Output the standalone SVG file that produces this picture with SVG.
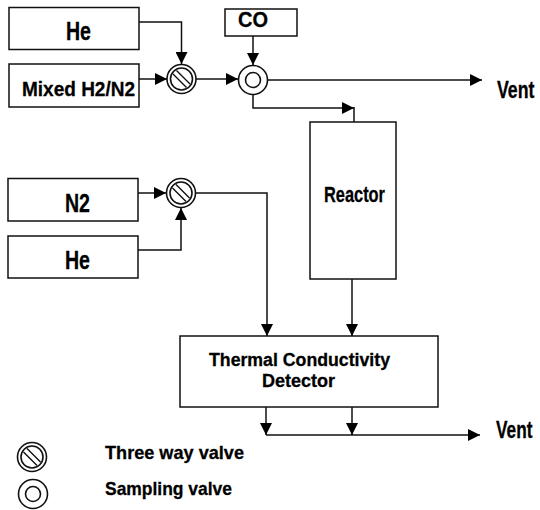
<svg xmlns="http://www.w3.org/2000/svg" width="540" height="510" viewBox="0 0 540 510">
<style>
rect{fill:#fff;stroke:#111;stroke-width:1.500}
.c{fill:none;stroke:#111;stroke-width:1.500}
.v{fill:#fff;stroke:#111;stroke-width:1.600}
.s{fill:none;stroke:#111;stroke-width:1.400}
.t{font-family:"Liberation Sans",Arial,sans-serif;font-weight:700;fill:#000;stroke:#000;stroke-width:.3}
</style>
<defs>
<marker id="a" markerUnits="userSpaceOnUse" markerWidth="13" markerHeight="12" refX="12" refY="6" orient="auto"><path d="M0 0L12 6L0 12z" fill="#000"/></marker>
<g id="tw"><circle class="v" r="14.500"/><circle class="v" r="11"/><path class="s" d="M-8.500 -5L5 8.500M-5 -8.500L8.500 5"/></g>
<g id="sv"><circle class="v" r="14.500"/><circle class="v" r="7.500"/></g>
</defs>
<g id="connectors">
<path class="c" marker-end="url(#a)" d="M139 22H181.500V64"/>
<path class="c" marker-end="url(#a)" d="M139 79H167"/>
<path class="c" marker-end="url(#a)" d="M196 79H238"/>
<path class="c" marker-end="url(#a)" d="M253 36V65"/>
<path class="c" marker-end="url(#a)" d="M268 80H482"/>
<path class="c" marker-end="url(#a)" d="M253 94V108H354"/>
<path class="c" d="M354 107V122"/>
<path class="c" marker-end="url(#a)" d="M138 193H166"/>
<path class="c" marker-end="url(#a)" d="M138 250H181V208"/>
<path class="c" marker-end="url(#a)" d="M195 193H267V336"/>
<path class="c" marker-end="url(#a)" d="M352 279V336"/>
<path class="c" marker-end="url(#a)" d="M266 435H480"/>
<path class="c" marker-end="url(#a)" d="M266 407V435"/>
<path class="c" marker-end="url(#a)" d="M352 407V435"/>
</g>
<g id="he1"><rect x="9" y="7.500" width="130" height="42"/><text class="t" x="66" y="40" font-size="25" textLength="25" lengthAdjust="spacingAndGlyphs">He</text></g>
<g id="mixed"><rect x="9" y="64" width="130" height="43"/><text class="t" x="22" y="96" font-size="21" textLength="113" lengthAdjust="spacingAndGlyphs">Mixed H2/N2</text></g>
<g id="co"><rect x="225" y="9" width="72" height="27"/><text class="t" x="238" y="27" font-size="22" textLength="30" lengthAdjust="spacingAndGlyphs">CO</text></g>
<g id="valve1"><use href="#tw" x="181.500" y="79"/></g>
<g id="valve2"><use href="#sv" x="253" y="80"/></g>
<g id="reactor"><rect x="310" y="122" width="86" height="157"/><text class="t" x="324" y="202" font-size="22" textLength="61" lengthAdjust="spacingAndGlyphs">Reactor</text></g>
<g id="n2"><rect x="8" y="178.500" width="130" height="42.500"/><text class="t" x="65" y="212" font-size="25" textLength="25" lengthAdjust="spacingAndGlyphs">N2</text></g>
<g id="he2"><rect x="8" y="236" width="130" height="42"/><text class="t" x="65" y="269" font-size="25" textLength="25" lengthAdjust="spacingAndGlyphs">He</text></g>
<g id="valve3"><use href="#tw" x="181" y="193"/></g>
<g id="tcd"><rect x="180" y="336" width="258" height="71"/><text class="t" x="209" y="366" font-size="18" textLength="181" lengthAdjust="spacingAndGlyphs">Thermal Conductivity</text><text class="t" x="262" y="387" font-size="18" textLength="73" lengthAdjust="spacingAndGlyphs">Detector</text></g>
<g id="vent1"><text class="t" transform="translate(497 98) scale(.77 1)" font-size="23">Vent</text></g>
<g id="vent2"><text class="t" transform="translate(496 438) scale(.75 1)" font-size="23">Vent</text></g>
<g id="legend1"><use href="#tw" x="32" y="457"/><text class="t" x="105" y="459" font-size="19" textLength="139" lengthAdjust="spacingAndGlyphs">Three way valve</text></g>
<g id="legend2"><use href="#sv" x="33" y="494"/><text class="t" x="105" y="495" font-size="19" textLength="127" lengthAdjust="spacingAndGlyphs">Sampling valve</text></g>
</svg>
